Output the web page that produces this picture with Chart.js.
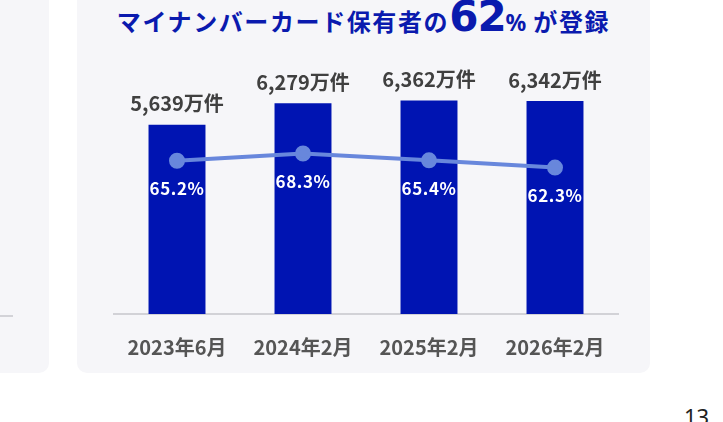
<!DOCTYPE html>
<html lang="ja">
<head>
<meta charset="utf-8">
<script src="https://cdn.jsdelivr.net/npm/chart.js@4.4.1/dist/chart.umd.min.js"></script>
<style>
  html, body { margin: 0; padding: 0; background: #fff; }
  body { width: 723px; height: 422px; position: relative; overflow: hidden;
         font-family: "Noto Sans CJK JP", "Noto Sans", sans-serif; }
  .card { position: absolute; background: #f6f6f9; border-radius: 10px; }
  .card.left { left: -20px; top: -20px; width: 69px; height: 393px; }
  .card.left .rule { position: absolute; left: 0; width: 33px; top: 335px; height: 2px; background: #d3d3d8; }
  .card.main { left: 77px; top: -20px; width: 573px; height: 393px; }
  .title { position: absolute; left: 77px; width: 573px; top: -3px; height: 40px;
           text-align: center; color: #0a1aae; font-weight: 700; white-space: nowrap;
           line-height: 40px; }
  .title .jp { font-size: 24px; letter-spacing: 1.6px; }
  .title .big { font-family: "DejaVu Sans", sans-serif; font-size: 42px; letter-spacing: -1px; }
  .title .pct { font-family: "Noto Sans", sans-serif; font-size: 23px; margin-right: 7px; }
  .page { position: absolute; left: 684px; top: 401px; font-family: "Noto Sans", sans-serif;
          font-size: 22px; color: #222; }
  #chart { position: absolute; left: 0; top: 0; }
</style>
</head>
<body>
<div class="card left"><div class="rule"></div></div>
<div class="card main"></div>
<div class="title"><span class="jp">マイナンバーカード保有者の</span><span class="big">62</span><span class="pct">%</span><span class="jp">が登録</span></div>
<div class="page">13</div>
<canvas id="chart" width="723" height="422"></canvas>
<script>
  /* ---------------- DATA ---------------- */
  const categories = ['2023年6月', '2024年2月', '2025年2月', '2026年2月'];
  const holders = [5639, 6279, 6362, 6342];      // 万件
  const rates = [65.2, 68.3, 65.4, 62.3];        // %

  const barColor = '#0014b2';
  const lineColor = '#6887dc';
  const jpFont = '"Noto Sans CJK JP", "Noto Sans", sans-serif';

  /* value labels above bars, percentages under points */
  const labelPlugin = {
    id: 'labels',
    afterDatasetsDraw(chart) {
      const ctx = chart.ctx;
      ctx.save();
      ctx.textAlign = 'center';
      ctx.textBaseline = 'middle';

      chart.getDatasetMeta(1).data.forEach((bar, i) => {
        ctx.fillStyle = '#404040';
        ctx.font = 'bold 20px ' + jpFont;
        ctx.fillText(holders[i].toLocaleString('en-US') + '万件', bar.x, bar.y - 21);
      });

      ctx.letterSpacing = '0.6px';
      chart.getDatasetMeta(0).data.forEach((pt, i) => {
        ctx.fillStyle = '#ffffff';
        ctx.font = 'bold 17px ' + jpFont;
        ctx.fillText(rates[i].toFixed(1) + '%', pt.x, pt.y + 28);
      });
      ctx.restore();
    }
  };

  new Chart(document.getElementById('chart').getContext('2d'), {
    data: {
      labels: categories,
      datasets: [
        {
          type: 'line',
          data: rates,
          yAxisID: 'y2',
          borderColor: lineColor,
          backgroundColor: lineColor,
          borderWidth: 4,
          pointRadius: 6,
          pointHoverRadius: 6,
          order: 0
        },
        {
          type: 'bar',
          data: holders,
          yAxisID: 'y',
          backgroundColor: barColor,
          categoryPercentage: 1,
          barPercentage: 0.452,
          order: 1
        }
      ]
    },
    options: {
      responsive: false,
      animation: false,
      events: [],
      layout: { padding: { left: 114, right: 105, top: 79, bottom: 50 } },
      plugins: { legend: { display: false }, tooltip: { enabled: false } },
      scales: {
        x: {
          grid: { display: false },
          border: { display: true, color: '#d2d2d7', width: 2 },
          ticks: {
            padding: 13,
            color: '#555555',
            font: { family: jpFont, size: 20, weight: 'bold' }
          }
        },
        y: { display: false, min: 0, max: 7000 },
        y2: { display: false, min: 0, max: 100 }
      }
    },
    plugins: [labelPlugin]
  });
</script>
</body>
</html>
